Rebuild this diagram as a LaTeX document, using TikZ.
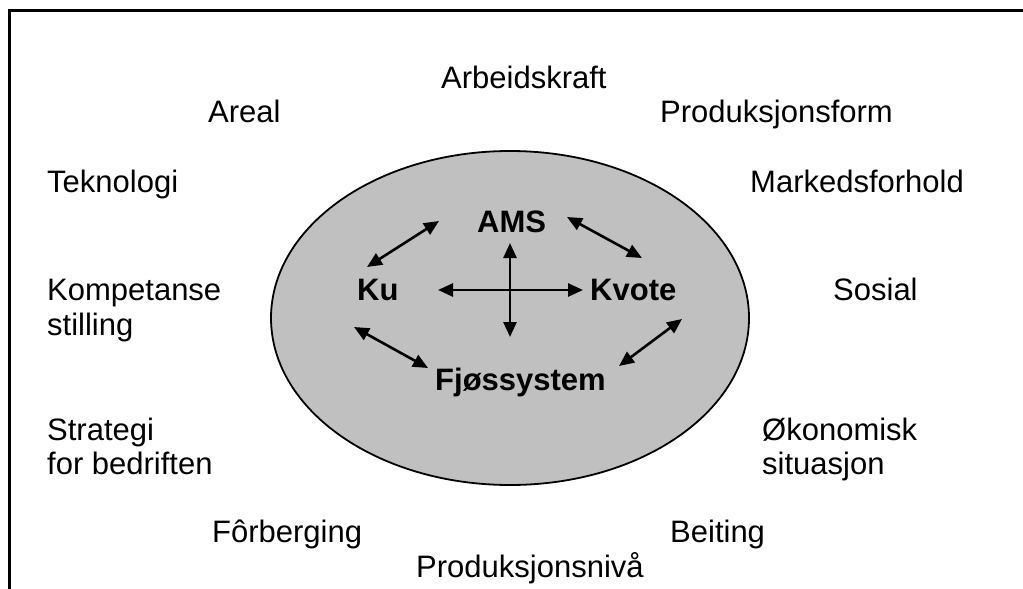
\documentclass[tikz,border=0pt]{standalone}
\usepackage{fontspec}
\setmainfont{Liberation Sans}
\usetikzlibrary{arrows.meta,shapes.geometric}
\begin{document}
\begin{tikzpicture}[x=1pt,y=-1pt,
  lbl/.style={anchor=base west,inner sep=0pt,font=\fontsize{31}{36}\selectfont},
  core/.style={anchor=base west,inner sep=0pt,font=\fontsize{31}{36}\selectfont\bfseries},
  link/.style={line width=2.6pt,{Triangle[length=15pt,width=13pt]}-{Triangle[length=15pt,width=13pt]}},
  frameline/.style={line width=3pt}]
\useasboundingbox (0,0) rectangle (1023,589);
\fill[white] (0,0) rectangle (1023,589);
% frame (top and left edges)
\coordinate (fr1) at (1023,10);
\coordinate (fr2) at (9,10);
\coordinate (fr3) at (9,589);
\draw[frameline] (fr1) -- (fr2) -- (fr3);
% central oval
\node[ellipse,draw,line width=1.8pt,fill={rgb,255:red,192;green,192;blue,192},
  minimum width=478pt,minimum height=334pt,inner sep=0pt] (oval) at (510,318) {};
% outer labels
\node[lbl] (arb) at (441,88) {Arbeidskraft};
\node[lbl] (are) at (208,122) {Areal};
\node[lbl] (pform) at (660,122) {Produksjonsform};
\node[lbl] (tek) at (47,192) {Teknologi};
\node[lbl] (mark) at (750,192) {Markedsforhold};
\node[lbl] (komp) at (47,300) {Kompetanse};
\node[lbl] (still) at (47,335) {stilling};
\node[lbl] (sos) at (833,300) {Sosial};
\node[lbl] (strat) at (47,440) {Strategi};
\node[lbl] (bedr) at (47,474) {for bedriften};
\node[lbl] (oko) at (762,440) {Økonomisk};
\node[lbl] (sit) at (762,474) {situasjon};
\node[lbl] (forb) at (212,542) {Fôrberging};
\node[lbl] (beit) at (670,542) {Beiting};
\node[lbl] (pniv) at (416,577) {Produksjonsnivå};
% core labels
\node[core] (ams) at (477,232) {AMS};
\node[core] (ku) at (357,300) {Ku};
\node[core] (kvote) at (590,300) {Kvote};
\node[core] (fjos) at (435,390) {Fjøssystem};
% arrow end points
\coordinate (a1) at (367,267); \coordinate (a2) at (439,221);
\coordinate (b1) at (567,217); \coordinate (b2) at (642,258);
\coordinate (c1) at (354,327); \coordinate (c2) at (428,368);
\coordinate (d1) at (682,319); \coordinate (d2) at (619,366);
\coordinate (v1) at (510,243); \coordinate (v2) at (510,337);
\coordinate (h1) at (438,290); \coordinate (h2) at (583,290);
\draw[link] (a1) -- (a2);
\draw[link] (b1) -- (b2);
\draw[link] (c1) -- (c2);
\draw[link] (d1) -- (d2);
\draw[link] (v1) -- (v2);
\draw[link] (h1) -- (h2);
\end{tikzpicture}
\end{document}
